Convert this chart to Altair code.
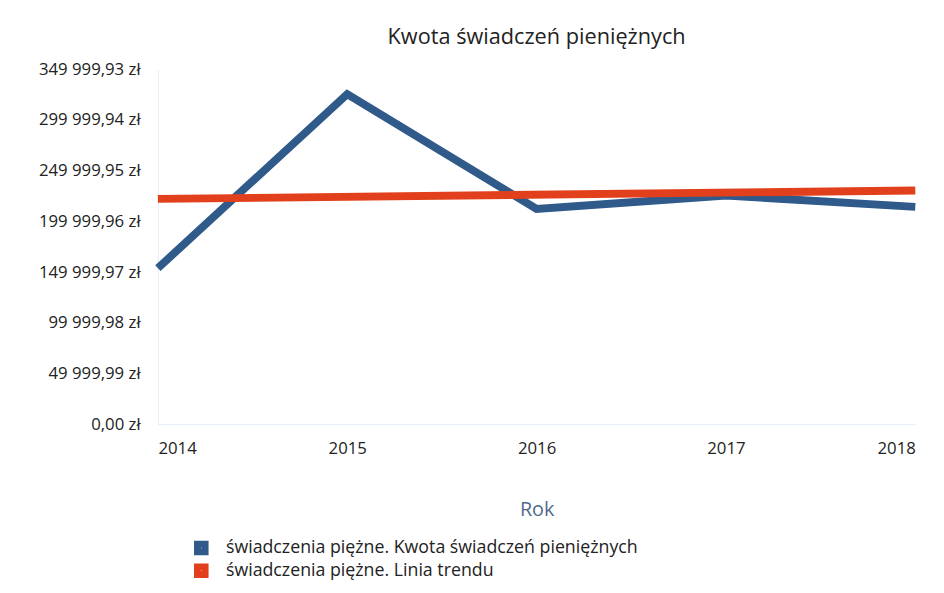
import altair as alt
import pandas as pd

years = [2014, 2015, 2016, 2017, 2018]
amounts = [153900, 325500, 212300, 225500, 214300]
series_main = "świadczenia piężne. Kwota świadczeń pieniężnych"
series_trend = "świadczenia piężne. Linia trendu"
y_ticks = [0, 49999.99, 99999.98, 149999.97, 199999.96, 249999.95, 299999.94, 349999.93]

df = pd.DataFrame({"Rok": years, "Kwota": amounts, "Seria": series_main})

color_scale = alt.Scale(domain=[series_main, series_trend], range=["#2f5a8a", "#e2401c"])
font = "Open Sans"

x_enc = alt.X("Rok:Q", scale=alt.Scale(domain=[2014, 2018], nice=False, zero=False),
              axis=alt.Axis(values=years, format="d", title="Rok", titleColor="#4f6a8c",
                            titleFontWeight="normal", titleFontSize=20, titlePadding=44,
                            labelFontSize=17, labelColor="#222", labelPadding=17,
                            ticks=False, grid=False, domainColor="#e3ecf7"))
y_enc = alt.Y("Kwota:Q", scale=alt.Scale(domain=[0, 349999.93], nice=False),
              axis=alt.Axis(values=y_ticks, title=None, labelFontSize=17, labelColor="#222",
                            labelPadding=18, ticks=False, grid=False, domainColor="#e3ecf7",
                            labelExpr="replace(replace(format(datum.value, ',.2f'), ',', ' '), '.', ',') + ' zł'"))

legend = alt.Legend(title=None, orient="none", legendX=35, legendY=474, direction="vertical",
                    symbolType="square", symbolSize=60, symbolStrokeWidth=7,
                    labelFontSize=18, labelColor="#222", rowPadding=0, labelOffset=16,
                    clipHeight=23, labelLimit=800)

main = alt.Chart(df).mark_line(strokeWidth=8, strokeJoin="miter").encode(
    x=x_enc, y=y_enc,
    color=alt.Color("Seria:N", scale=color_scale, legend=legend),
)

trend = alt.Chart(df).transform_regression("Rok", "Kwota").transform_calculate(
    Seria=f"'{series_trend}'"
).mark_line(strokeWidth=8).encode(
    x="Rok:Q", y="Kwota:Q",
    color=alt.Color("Seria:N", scale=color_scale, legend=legend),
)

chart = alt.layer(main, trend).properties(
    width=768, height=360,
    padding={"left": 30, "top": 14, "right": 5, "bottom": 5},
    title=alt.TitleParams("Kwota świadczeń pieniężnych", fontSize=22, fontWeight="normal",
                          color="#222", font=font, offset=12),
).configure(font=font).configure_view(stroke=None)

chart.save("out.html", embed_options={"renderer": "svg", "actions": False})
